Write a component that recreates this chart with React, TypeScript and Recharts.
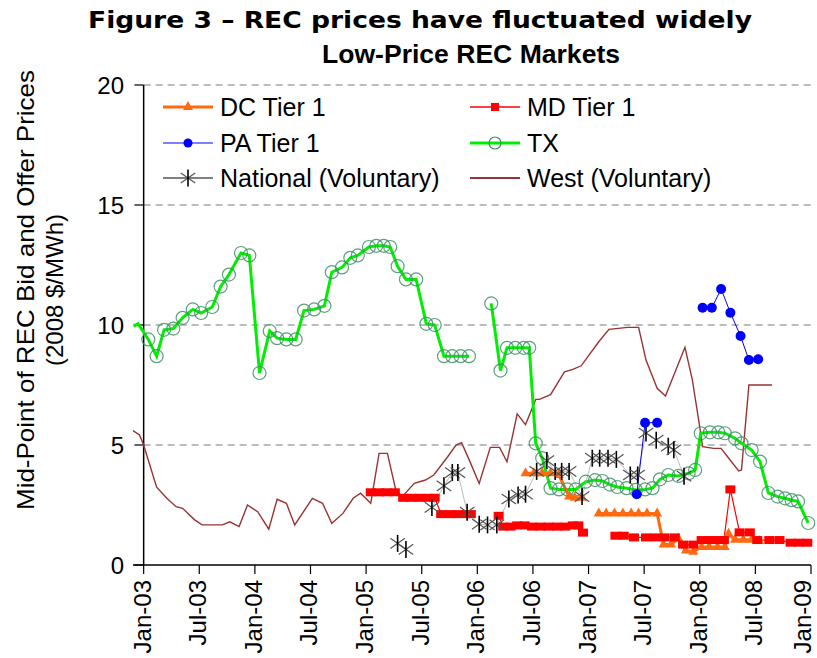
import React from 'react';
import { ComposedChart, Line, XAxis, YAxis, ReferenceLine } from 'recharts';

const FONT = '"Liberation Sans", Arial, Helvetica, sans-serif';

// x positions are months since Jan-03 (fractional)
const monthTicks = [0, 6, 12, 18, 24, 30, 36, 42, 48, 54, 60, 66, 72];
const tickLabels = ['Jan-03', 'Jul-03', 'Jan-04', 'Jul-04', 'Jan-05', 'Jul-05', 'Jan-06', 'Jul-06', 'Jan-07', 'Jul-07', 'Jan-08', 'Jul-08', 'Jan-09'];
const priceTicks = [0, 5, 10, 15, 20];

const txMonths = [-1.1, -0.6, 0.5, 1.4, 2.2, 3.2, 4.2, 5.3, 6.2, 7.4, 8.3, 9.2, 10.5, 11.4, 12.5, 13.6, 14.4, 15.4, 16.4, 17.3, 18.4, 19.5, 20.3, 21.4, 22.3, 23.1, 24.3, 25.1, 25.9, 26.6, 27.4, 28.3, 29.4, 30.5, 31.4, 32.4, 33.3, 34.2, 35.1, 36.3, 37.5, 38.5, 39.2, 40.1, 41.0, 41.6, 42.3, 43.0, 43.9, 44.8, 45.7, 46.6, 47.7, 48.7, 49.5, 50.3, 51.1, 52.1, 53.1, 54.1, 54.9, 55.7, 56.6, 57.7, 58.8, 59.5, 60.1, 61.1, 62.0, 62.7, 63.8, 64.5, 65.6, 66.5, 67.4, 68.4, 69.2, 69.9, 70.6, 71.7];
const txValues = [9.95, 10.05, 9.4, 8.7, 9.8, 9.85, 10.3, 10.65, 10.5, 10.75, 11.6, 12.1, 13.0, 12.9, 8.0, 9.75, 9.45, 9.4, 9.4, 10.6, 10.65, 10.8, 12.2, 12.4, 12.8, 12.9, 13.25, 13.3, 13.3, 13.25, 12.45, 11.9, 11.9, 10.05, 10.0, 8.7, 8.7, 8.7, 8.7, null, 10.9, 8.1, 9.05, 9.05, 9.05, 9.05, 5.07, 4.45, 3.2, 3.15, 3.15, 3.15, 3.47, 3.54, 3.5, 3.35, 3.25, 3.2, 3.13, 3.15, 3.2, 3.57, 3.75, 3.71, 3.82, 3.96, 5.49, 5.53, 5.53, 5.49, 5.28, 5.07, 4.79, 4.31, 3.0, 2.85, 2.78, 2.7, 2.65, 1.75];

const westMonths = [-1.15, -0.45, 0, 1.4, 2.5, 3.5, 4.2, 5.5, 6.3, 8.5, 9.3, 10.3, 11.2, 12.3, 13.5, 14.4, 15.4, 16.3, 18.2, 19.3, 20.3, 21.5, 22.6, 23.4, 24.5, 25.4, 26.3, 27.2, 27.9, 29.2, 30.4, 31.3, 32.8, 33.7, 34.3, 35.1, 36.2, 37.4, 38.4, 39.2, 40.3, 41.2, 42.3, 42.7, 43.9, 45.4, 46.3, 47.2, 49.1, 50.2, 52.2, 53.4, 54.2, 55.4, 56.3, 58.4, 59.2, 60.1, 60.3, 61.5, 62.3, 63.0, 64.2, 64.5, 65.3, 67.8];
const westValues = [5.6, 5.42, 5.0, 3.24, 2.78, 2.43, 2.36, 1.88, 1.67, 1.67, 1.8, 1.6, 2.5, 2.22, 1.49, 2.74, 2.57, 1.67, 2.78, 2.57, 1.74, 2.15, 2.78, 2.99, 2.57, 4.65, 4.65, 3.13, 2.85, 3.4, 3.54, 3.75, 4.51, 5.0, 5.1, 4.4, 3.4, 4.9, 4.9, 4.3, 6.3, 5.85, 6.9, 6.9, 7.1, 8.05, 8.15, 8.3, 9.3, 9.82, 9.9, 9.9, 8.54, 7.36, 7.04, 9.07, 7.71, 5.49, 4.93, 4.86, 4.86, 4.51, 3.92, 3.96, 7.5, 7.5];

const dcMonths = [41.2, 42.1, 43.0, 43.9, 44.8, 45.9, 46.5, 47.3, 48.2, 49.1, 49.9, 50.8, 51.7, 52.6, 53.4, 54.3, 55.4, 56.1, 56.9, 57.7, 58.5, 59.3, 60.2, 61.0, 61.9, 62.7, 63.1, 63.8, 64.7, 65.6, 66.4];
const dcValues = [3.82, 3.82, 3.82, 3.82, 3.75, 2.85, 2.8, 2.8, null, 2.15, 2.15, 2.15, 2.15, 2.15, 2.15, 2.15, 2.15, 0.85, 0.85, 1.1, 0.6, 0.55, 0.75, 0.75, 0.75, 0.75, 1.3, 1.05, 1.05, 1.05, 1.0];

const mdMonths = [24.5, 25.4, 26.2, 27.1, 28.0, 28.9, 29.8, 30.7, 31.4, 32.1, 33.0, 33.9, 34.8, 35.3, 36.5, 38.3, 38.8, 39.6, 40.3, 41.1, 41.9, 42.8, 43.7, 44.6, 45.5, 46.3, 46.9, 47.4, 49.0, 50.9, 51.8, 52.9, 54.2, 55.2, 56.2, 57.3, 58.2, 59.3, 60.2, 61.1, 62.0, 62.6, 63.3, 64.3, 65.4, 66.2, 67.5, 68.6, 69.8, 70.7, 71.6];
const mdValues = [3.03, 3.03, 3.03, 3.03, 2.8, 2.8, 2.8, 2.8, 2.8, 2.12, 2.12, 2.12, 2.12, 2.12, null, 2.05, 1.6, 1.6, 1.65, 1.65, 1.6, 1.6, 1.6, 1.6, 1.6, 1.65, 1.65, 1.35, null, 1.22, 1.22, 1.15, 1.15, 1.15, 1.15, 1.15, 0.85, 0.85, 1.04, 1.04, 1.04, 1.04, 3.15, 1.36, 1.36, 1.04, 1.04, 1.04, 0.93, 0.93, 0.93];

const paMonths = [53.2, 54.1, 55.4, 57.5, 60.3, 61.3, 62.3, 63.3, 64.4, 65.3, 66.3];
const paValues = [2.95, 5.93, 5.93, null, 10.72, 10.72, 11.5, 10.51, 9.54, 8.54, 8.57];

const natMonths = [27.4, 28.3, 29.5, 31.1, 32.4, 33.3, 33.9, 34.9, 36.2, 37.1, 38.1, 39.4, 40.4, 41.2, 42.4, 43.5, 44.4, 45.1, 45.9, 47.3, 48.4, 49.2, 50.1, 51.0, 52.5, 53.3, 54.2, 55.3, 56.6, 57.2, 58.3];
const natValues = [0.9, 0.65, null, 2.4, 3.3, 3.85, 3.85, 2.2, 1.7, 1.67, 1.67, 2.75, 2.92, 2.95, 3.9, 4.35, 3.9, 3.9, 3.9, 2.85, 4.45, 4.45, 4.45, 4.4, 3.75, 3.75, 5.5, 5.2, 4.95, 4.8, 3.7];

const zip = (ms: number[], vs: (number | null)[]) => ms.map((m, i) => ({ m, v: vs[i] }));

const ORANGE = '#FF6A10';
const RED = '#FF0000';
const BLUE = '#0000FF';
const GREEN = '#00EE00';
const BROWN = '#993333';

const ok = (p: any) => p.cx != null && p.cy != null && p.payload && p.payload.v != null && p.payload.m >= 0;

const txDot = (p: any) =>
  ok(p) ? <circle key={'tx' + p.index} cx={p.cx} cy={p.cy} r={6.5} fill="none" stroke="#3f9166" strokeOpacity={0.85} strokeWidth={1.2} /> : <g key={'tx' + p.index} />;
const dcDot = (p: any) =>
  ok(p) ? <polygon key={'dc' + p.index} points={`${p.cx},${p.cy - 6} ${p.cx - 5},${p.cy + 3} ${p.cx + 5},${p.cy + 3}`} fill={ORANGE} /> : <g key={'dc' + p.index} />;
const mdDot = (p: any) =>
  ok(p) ? <rect key={'md' + p.index} x={p.cx - 5} y={p.cy - 4} width={10} height={8} fill={RED} /> : <g key={'md' + p.index} />;
const paDot = (p: any) =>
  ok(p) ? <circle key={'pa' + p.index} cx={p.cx} cy={p.cy} r={5} fill={BLUE} /> : <g key={'pa' + p.index} />;

const Asterisk = ({ cx, cy, s = 8.5 }: { cx: number; cy: number; s?: number }) => (
  <g>
    <line x1={cx - s * 0.85} y1={cy - s * 0.6} x2={cx + s * 0.85} y2={cy + s * 0.6} stroke="#555" strokeWidth={1.2} />
    <line x1={cx - s * 0.85} y1={cy + s * 0.6} x2={cx + s * 0.85} y2={cy - s * 0.6} stroke="#555" strokeWidth={1.2} />
    <line x1={cx} y1={cy - s} x2={cx} y2={cy + s} stroke="#000" strokeWidth={1.6} />
  </g>
);
const natDot = (p: any) =>
  ok(p) ? <Asterisk key={'nat' + p.index} cx={p.cx} cy={p.cy} /> : <g key={'nat' + p.index} />;

const XTick = (props: any) => {
  const { x, y, payload } = props;
  const label = tickLabels[monthTicks.indexOf(payload.value)];
  const bx = Math.min(x + 7, 811);
  return (
    <text x={bx} y={y + 4} transform={`rotate(-90 ${bx} ${y + 4})`} textAnchor="end" fontSize={24} fontFamily={FONT} fill="#000">
      {label}
    </text>
  );
};

const legendRows = [
  { y: 107, left: { name: 'DC Tier 1', kind: 'dc' }, right: { name: 'MD Tier 1', kind: 'md' } },
  { y: 143, left: { name: 'PA Tier 1', kind: 'pa' }, right: { name: 'TX', kind: 'tx' } },
  { y: 178, left: { name: 'National (Voluntary)', kind: 'nat' }, right: { name: 'West (Voluntary)', kind: 'west' } },
];

const LegendMark = ({ x, y, kind }: { x: number; y: number; kind: string }) => {
  const x2 = x + 50;
  const cx = x + 25;
  switch (kind) {
    case 'dc':
      return (<g><line x1={x} y1={y} x2={x2} y2={y} stroke={ORANGE} strokeWidth={3} /><polygon points={`${cx},${y - 6} ${cx - 5},${y + 3} ${cx + 5},${y + 3}`} fill={ORANGE} /></g>);
    case 'md':
      return (<g><line x1={x} y1={y} x2={x2} y2={y} stroke={RED} strokeWidth={1.5} /><rect x={cx - 4} y={y - 4} width={8} height={8} fill={RED} /></g>);
    case 'pa':
      return (<g><line x1={x} y1={y} x2={x2} y2={y} stroke={BLUE} strokeWidth={1.2} /><circle cx={cx} cy={y} r={4.5} fill={BLUE} /></g>);
    case 'tx':
      return (<g><line x1={x} y1={y} x2={x2} y2={y} stroke={GREEN} strokeWidth={3} /><circle cx={cx} cy={y} r={6} fill="none" stroke="#3f9166" strokeWidth={1.2} /></g>);
    case 'nat':
      return (<g><line x1={x} y1={y} x2={x2} y2={y} stroke="#000" strokeWidth={1.2} /><Asterisk cx={cx} cy={y} /></g>);
    default:
      return <line x1={x} y1={y} x2={x2} y2={y} stroke={BROWN} strokeWidth={2} />;
  }
};

export default function App() {
  return (
    <div style={{ position: 'absolute', left: 0, top: 0, width: 817, height: 658, background: '#fff' }}>
      <ComposedChart width={817} height={658} margin={{ top: 85, right: 6, bottom: 3, left: 0 }}>
        <XAxis
          dataKey="m"
          type="number"
          domain={[-1, 72]}
          ticks={monthTicks}
          interval={0}
          height={90}
          tickSize={9}
          stroke="#000"
          axisLine={{ stroke: '#000', strokeWidth: 1.5 }}
          tickLine={{ stroke: '#000', strokeWidth: 1.2 }}
          tick={<XTick />}
        />
        <YAxis
          type="number"
          domain={[0, 20]}
          ticks={priceTicks}
          width={133}
          axisLine={false}
          tickLine={false}
          tickSize={0}
          tickMargin={9}
          tick={{ fontSize: 24, fontFamily: FONT, fill: '#000' }}
        />
        {[5, 10, 15, 20].map((v) => (
          <ReferenceLine key={'g' + v} segment={[{ x: 0, y: v }, { x: 72, y: v }]} stroke="#7a7a7a" strokeWidth={1.2} strokeDasharray="7 5" />
        ))}
        {priceTicks.map((v) => (
          <ReferenceLine key={'t' + v} segment={[{ x: -1, y: v }, { x: 0, y: v }]} stroke="#000" strokeWidth={1.2} />
        ))}
        <ReferenceLine segment={[{ x: 0, y: 0 }, { x: 0, y: 20 }]} stroke="#000" strokeWidth={1.5} />

        <Line data={zip(westMonths, westValues)} dataKey="v" type="linear" stroke={BROWN} strokeWidth={1.4} dot={false} activeDot={false} isAnimationActive={false} />
        <Line data={zip(txMonths, txValues)} dataKey="v" type="linear" stroke={GREEN} strokeWidth={3} dot={txDot} activeDot={false} isAnimationActive={false} />
        <Line data={zip(dcMonths, dcValues)} dataKey="v" type="linear" stroke={ORANGE} strokeWidth={3} dot={dcDot} activeDot={false} isAnimationActive={false} />
        <Line data={zip(mdMonths, mdValues)} dataKey="v" type="linear" stroke={RED} strokeWidth={1.2} dot={mdDot} activeDot={false} isAnimationActive={false} />
        <Line data={zip(natMonths, natValues)} dataKey="v" type="linear" stroke="#aaa" strokeWidth={0.8} dot={natDot} activeDot={false} isAnimationActive={false} />
        <Line data={zip(paMonths, paValues)} dataKey="v" type="linear" stroke={BLUE} strokeWidth={1} dot={paDot} activeDot={false} isAnimationActive={false} />
      </ComposedChart>

      <svg width={817} height={658} style={{ position: 'absolute', left: 0, top: 0, pointerEvents: 'none' }}>
        <text x={420} y={28} textAnchor="middle" fontSize={23} fontWeight="bold" fontFamily='"DejaVu Sans", Verdana, sans-serif' textLength={664} lengthAdjust="spacingAndGlyphs">
          Figure 3 – REC prices have fluctuated widely
        </text>
        <text x={471} y={63} textAnchor="middle" fontSize={25} fontWeight="bold" fontFamily={FONT} textLength={298} lengthAdjust="spacingAndGlyphs">
          Low-Price REC Markets
        </text>
        <text x={34} y={290} transform="rotate(-90 34 290)" textAnchor="middle" fontSize={24} fontFamily={FONT} textLength={440} lengthAdjust="spacingAndGlyphs">
          Mid-Point of REC Bid and Offer Prices
        </text>
        <text x={63} y={290} transform="rotate(-90 63 290)" textAnchor="middle" fontSize={24} fontFamily={FONT}>
          (2008 $/MWh)
        </text>
        {legendRows.map((r) => (
          <g key={r.y}>
            <LegendMark x={163} y={r.y} kind={r.left.kind} />
            <text x={220} y={r.y + 9} fontSize={25} fontFamily={FONT}>{r.left.name}</text>
            <LegendMark x={470} y={r.y} kind={r.right.kind} />
            <text x={527} y={r.y + 9} fontSize={25} fontFamily={FONT}>{r.right.name}</text>
          </g>
        ))}
      </svg>
    </div>
  );
}
